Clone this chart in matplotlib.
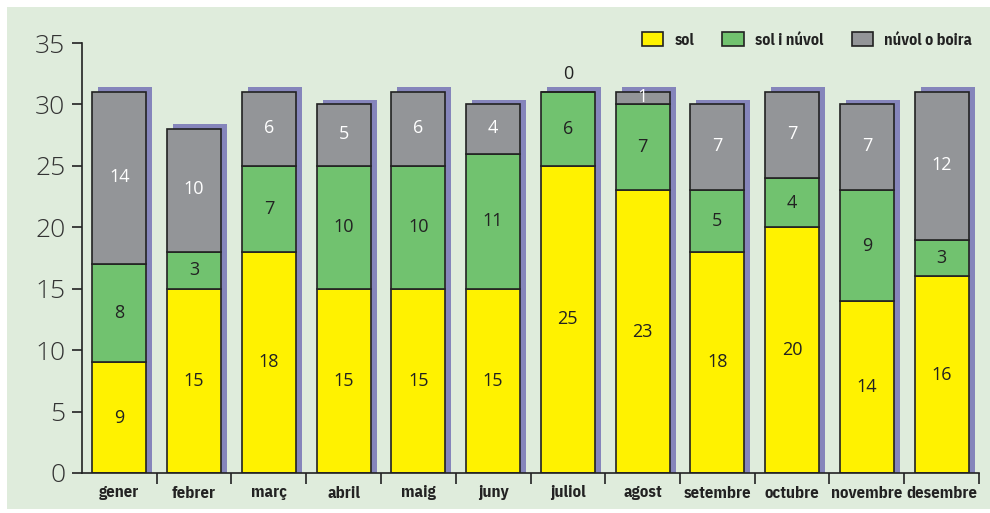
import numpy as np
import matplotlib
matplotlib.use("Agg")
import matplotlib.pyplot as plt
from matplotlib.patches import Rectangle, Patch

## ---------------- data ---------------- ##
months = ["gener", "febrer", "març", "abril", "maig", "juny", "juliol",
          "agost", "setembre", "octubre", "novembre", "desembre"]
sol = [9, 15, 18, 15, 15, 15, 25, 23, 18, 20, 14, 16]
sol_nuvol = [8, 3, 7, 10, 10, 11, 6, 7, 5, 4, 9, 3]
nuvol_boira = [14, 10, 6, 5, 6, 4, 0, 1, 7, 7, 7, 12]
series_names = ["sol", "sol i núvol", "núvol o boira"]

## ---------------- style ---------------- ##
c_yellow = "#fff200"
c_green = "#71c26f"
c_gray = "#939598"
c_shadow = "#8585bb"
c_panel = "#dfecdc"
c_ink = "#222222"
cond = ["IBM Plex Sans Condensed", "DejaVu Sans"]
light = ["Open Sans", "DejaVu Sans"]

fig = plt.figure(figsize=(9.9, 5.13), dpi=100)
fig.patch.set_facecolor("white")
# light green panel with a thin white margin top/left/bottom
fig.patches.append(Rectangle((7 / 990, 4 / 513), 1 - 7 / 990, 1 - 11 / 513,
                             transform=fig.transFigure, facecolor=c_panel,
                             edgecolor="none", zorder=-10))

ax = fig.add_axes([82 / 990, 1 - 473 / 513, (979 - 82) / 990, 430 / 513])
ax.set_facecolor("none")

x = np.arange(len(months))
w = 0.72
sol_a = np.array(sol)
mid_a = np.array(sol_nuvol)
top_a = np.array(nuvol_boira)
totals = sol_a + mid_a + top_a

# shadow behind each bar
ax.bar(x + 0.08, totals + 0.38, width=w, color=c_shadow, edgecolor="none", zorder=1)

kw = dict(width=w, edgecolor=c_ink, linewidth=1.2, zorder=2)
ax.bar(x, sol_a, color=c_yellow, label=series_names[0], **kw)
ax.bar(x, mid_a, bottom=sol_a, color=c_green, label=series_names[1], **kw)
ax.bar(x, top_a, bottom=sol_a + mid_a, color=c_gray, label=series_names[2], **kw)

# value labels
vkw = dict(ha="center", va="center", fontsize=13, family=light, zorder=3)
for i in range(len(months)):
    ax.text(x[i], sol_a[i] / 2, str(sol_a[i]), color=c_ink, **vkw)
    ax.text(x[i], sol_a[i] + mid_a[i] / 2, str(mid_a[i]), color=c_ink, **vkw)
    if top_a[i] == 0:
        ax.text(x[i], totals[i] + 1.5, "0", color=c_ink, **vkw)
    else:
        ax.text(x[i], sol_a[i] + mid_a[i] + top_a[i] / 2 + 0.1, str(top_a[i]),
                color="white", **vkw)

ax.set_xlim(-0.5, len(months) - 0.5)
ax.set_ylim(0, 35)
ax.set_yticks(np.arange(0, 36, 5))
ax.set_yticklabels([str(v) for v in range(0, 36, 5)], family=light,
                   fontweight="light", fontsize=19)
ax.tick_params(axis="y", length=7, width=1.2, color=c_ink, pad=5,
               labelcolor="#333333")

# x ticks at category boundaries, labels at centres
ax.set_xticks(np.arange(0.5, len(months), 1.0))
ax.set_xticklabels([])
ax.tick_params(axis="x", which="major", length=8, width=1.2, color=c_ink)
ax.set_xticks(x, minor=True)
ax.set_xticklabels(months, minor=True, fontfamily=cond, fontweight="bold",
                   fontsize=12, color=c_ink)
ax.tick_params(axis="x", which="minor", length=0, pad=9)

for s in ["top", "right"]:
    ax.spines[s].set_visible(False)
for s in ["left", "bottom"]:
    ax.spines[s].set_color(c_ink)
    ax.spines[s].set_linewidth(1.2)

handles = [Patch(facecolor=c, edgecolor=c_ink, linewidth=1.2)
           for c in [c_yellow, c_green, c_gray]]
leg = fig.legend(handles, series_names, loc="center right",
                 bbox_to_anchor=(0.982, 1 - 40 / 513), ncol=3, frameon=False,
                 borderpad=0, borderaxespad=0, handlelength=1.35, handleheight=1.0,
                 handletextpad=0.7, columnspacing=1.75,
                 prop=dict(family=cond, weight="bold", size=11.5))
for t in leg.get_texts():
    t.set_color(c_ink)

fig.savefig("out.png", dpi=100, facecolor=fig.get_facecolor())
